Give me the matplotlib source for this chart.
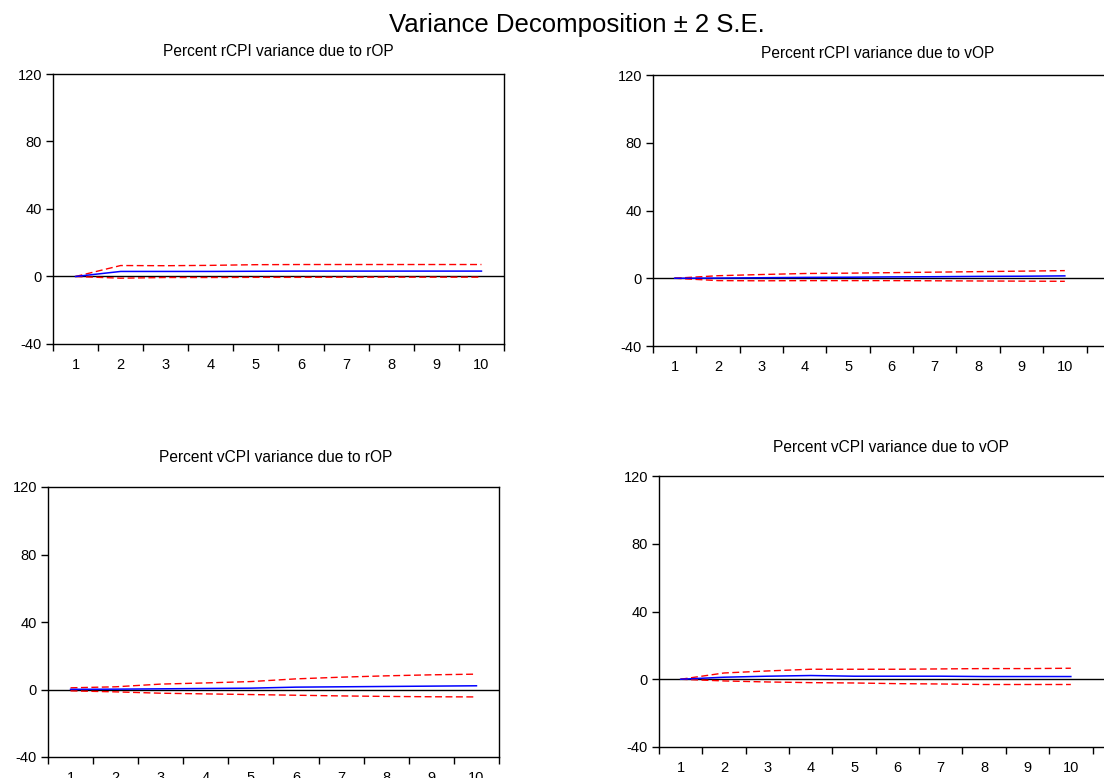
import matplotlib.pyplot as plt
import numpy as np

plt.rcParams['font.family'] = ['Liberation Sans', 'DejaVu Sans']
plt.rcParams['axes.unicode_minus'] = False

periods = [1, 2, 3, 4, 5, 6, 7, 8, 9, 10]

titles = ['Percent rCPI variance due to rOP', 'Percent rCPI variance due to vOP',
          'Percent vCPI variance due to rOP', 'Percent vCPI variance due to vOP']

# rCPI <- rOP
mid1 = [0, 3.0, 3.0, 3.0, 3.1, 3.2, 3.2, 3.2, 3.2, 3.2]
up1 = [0, 6.5, 6.4, 6.6, 7.0, 7.1, 7.1, 7.1, 7.1, 7.1]
lo1 = [0, -1.0, -0.6, -0.6, -0.5, -0.5, -0.4, -0.4, -0.4, -0.4]

# rCPI <- vOP
mid2 = [0, 0.1, 0.3, 0.5, 0.6, 0.8, 0.9, 1.1, 1.2, 1.4]
up2 = [0, 1.5, 2.2, 2.8, 3.0, 3.3, 3.6, 3.9, 4.2, 4.5]
lo2 = [0, -1.4, -1.5, -1.4, -1.4, -1.4, -1.5, -1.6, -1.7, -1.8]

# vCPI <- rOP
mid3 = [0.1, 0.2, 0.4, 0.6, 0.8, 1.4, 1.6, 1.8, 2.0, 2.2]
up3 = [1.0, 1.6, 3.2, 3.9, 4.7, 6.3, 7.3, 8.1, 8.7, 9.1]
lo3 = [-0.8, -1.4, -2.2, -2.6, -3.0, -3.4, -3.8, -4.1, -4.3, -4.4]

# vCPI <- vOP
mid4 = [0, 1.2, 1.8, 2.2, 1.8, 1.8, 1.8, 1.6, 1.6, 1.6]
up4 = [0, 3.7, 4.9, 5.9, 5.9, 5.9, 6.1, 6.3, 6.3, 6.5]
lo4 = [0, -1.0, -1.6, -2.0, -2.2, -2.6, -2.8, -3.1, -3.1, -3.1]

yticks = [-40, 0, 40, 80, 120]

W, H = 1104, 778
fig = plt.figure(figsize=(W / 100, H / 100), dpi=100)

# pixel boxes: left, top, width, height, px per period ; title position
# (right-hand panels run past the picture edge, as in the reference)
boxes = [(53, 74, 451, 270, 45.1, 278, 52),
         (653, 75, 460, 271, 43.35, 878, 54),
         (48, 487, 451, 270, 45.1, 276, 457),
         (659, 476, 455, 271, 43.35, 891, 448)]
series = [(mid1, up1, lo1), (mid2, up2, lo2), (mid3, up3, lo3), (mid4, up4, lo4)]

for (l, t, w, h, step, tx, ty), (mid, up, lo), title in zip(boxes, series, titles):
    ax = fig.add_axes([l / W, 1 - (t + h) / H, w / W, h / H])
    ax.axhline(0, color='black', lw=1.0)
    ax.plot(periods, up, color='red', ls=(0, (5, 2.5)), lw=1.0)
    ax.plot(periods, lo, color='red', ls=(0, (5, 2.5)), lw=1.0)
    ax.plot(periods, mid, color='blue', lw=1.1)
    ax.set_xlim(0.5, 0.5 + w / step)
    ax.set_ylim(-40, 120)
    ax.set_yticks(yticks)
    ax.set_xticks(periods)
    ax.set_xticks(np.arange(0.5, 11, 1), minor=True)
    ax.tick_params(axis='x', which='major', length=0, pad=10, labelsize=10.5)
    ax.tick_params(axis='x', which='minor', length=5, width=1, direction='out')
    ax.tick_params(axis='y', length=5, width=1, direction='out', pad=3, labelsize=10.5)
    for s in ax.spines.values():
        s.set_linewidth(1.0)
    fig.text(tx / W, 1 - ty / H, title, ha='center', va='center', fontsize=11.2)

fig.text(577 / W, 1 - 25 / H, 'Variance Decomposition \u00b1 2 S.E.', ha='center', va='center',
         fontsize=18.5)

fig.savefig('out.png', dpi=100)
